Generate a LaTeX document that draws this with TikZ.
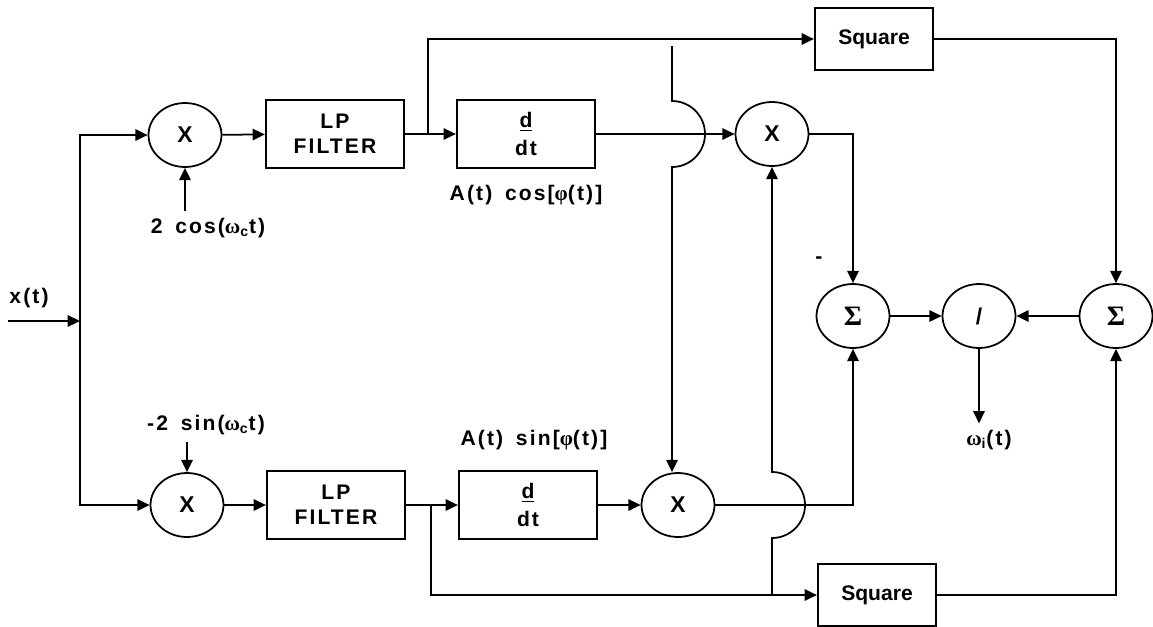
\documentclass[tikz,border=0pt]{standalone}
\usepackage{fontspec}
\setmainfont{Liberation Sans}
\newfontfamily\grk{Liberation Serif}
\newfontfamily\spaced{Liberation Sans}[LetterSpace=10,WordSpace=1.6]
\usetikzlibrary{arrows.meta,shapes.geometric}

\begin{document}
\begin{tikzpicture}[x=0.02cm,y=-0.02cm,line width=1pt,
    >={Triangle[length=7pt,width=6.5pt]},
    font=\fontsize{12}{14}\selectfont\bfseries,
    mult/.style={draw, ellipse, minimum width=1.46cm, minimum height=1.28cm, inner sep=0pt,
      font=\fontsize{13}{15}\selectfont\bfseries},
    block/.style={draw, align=center, minimum width=2.77cm, minimum height=1.37cm, inner sep=0pt,
      font=\fontsize{12}{14}\selectfont\bfseries\spaced},
    sqbox/.style={draw, minimum width=2.37cm, minimum height=1.24cm, inner sep=0pt},
    lbl/.style={font=\fontsize{12}{14}\selectfont\bfseries\spaced}]
                    \useasboundingbox (0,0) rectangle (1153,626);

                    % Input and split
                    \node[lbl] (xt) at (29,298) {x(t)};
                    \coordinate (xin) at (8,321);
                    \coordinate (split) at (80,321);
                    \draw[->] (xin) -- (split);

                    % Upper branch
                    \node[mult] (m1) at (185,135) {X};
                    \node[lbl] (cosin) at (208,228) {2 cos({\grk ω}\textsubscript{c}t)};
                    \node[block] (lp1) at (335,134) {LP\\FILTER};
                    \node[block] (dd1) at (526,134) {\underline{d}\\[2pt]dt};
                    \node[lbl] (acos) at (526,195) {A(t) cos[{\grk φ}(t)]};
                    \coordinate (br1) at (428,134);
                    \node[sqbox] (sq1) at (874,39) {Square};
                    \node[mult] (m3) at (772,134) {X};
                    \draw[->] (split) |- (m1);
                    \draw[->] (cosin.north -| m1) -- (m1);
                    \draw[->] (m1) -- (lp1);
                    \draw[->] (lp1) -- (dd1);
                    \draw[->] (br1) |- (sq1);
                    \draw[->] (dd1) -- (m3);

                    % Lower branch
                    \node[mult] (m2) at (187,505) {X};
                    \node[lbl] (sinin) at (206,425) {-2 sin({\grk ω}\textsubscript{c}t)};
                    \node[block] (lp2) at (336,505) {LP\\FILTER};
                    \node[block] (dd2) at (528,505) {\underline{d}\\[2pt]dt};
                    \node[lbl] (asin) at (534,440) {A(t) sin[{\grk φ}(t)]};
                    \coordinate (br2) at (431,505);
                    \node[sqbox] (sq2) at (877,595) {Square};
                    \node[mult] (m4) at (678,505) {X};
                    \draw[->] (split) |- (m2);
                    \draw[->] (sinin.south -| m2) -- (m2);
                    \draw[->] (m2) -- (lp2);
                    \draw[->] (lp2) -- (dd2);
                    \draw[->] (br2) |- (sq2);
                    \draw[->] (dd2) -- (m4);

                    % Cross feeds with hops
                    \coordinate (tap1) at (672,46);
                    \coordinate (hop1) at (672,101);
                    \draw[->] (tap1) -- (hop1) arc[start angle=-90, end angle=90, radius=33] -- (hop1 |- m4.north);
                    \coordinate (tap2) at (772,595);
                    \coordinate (hop2) at (772,538);
                    \draw[->] (tap2) -- (hop2) arc[start angle=90, end angle=-90, radius=33] -- (m3);

                    % Output stage
                    \node[mult] (s1) at (853,316) {\fontsize{16}{18}\selectfont\grk Σ};
                    \node[mult] (dv) at (979,316) {/};
                    \node[mult] (s2) at (1116,316) {\fontsize{16}{18}\selectfont\grk Σ};
                    \node (minus) at (819,260) {-};
                    \node[lbl] (wi) at (989,440) {{\grk ω}\textsubscript{i}(t)};
                    \draw[->] (m3) -| (s1);
                    \draw[->] (m4) -| (s1);
                    \draw[->] (sq1) -| (s2);
                    \draw[->] (sq2) -| (s2);
                    \draw[->] (s1) -- (dv);
                    \draw[->] (s2) -- (dv);
                    \draw[->] (dv) -- (dv |- wi.north);
                \end{tikzpicture}
\end{document}
